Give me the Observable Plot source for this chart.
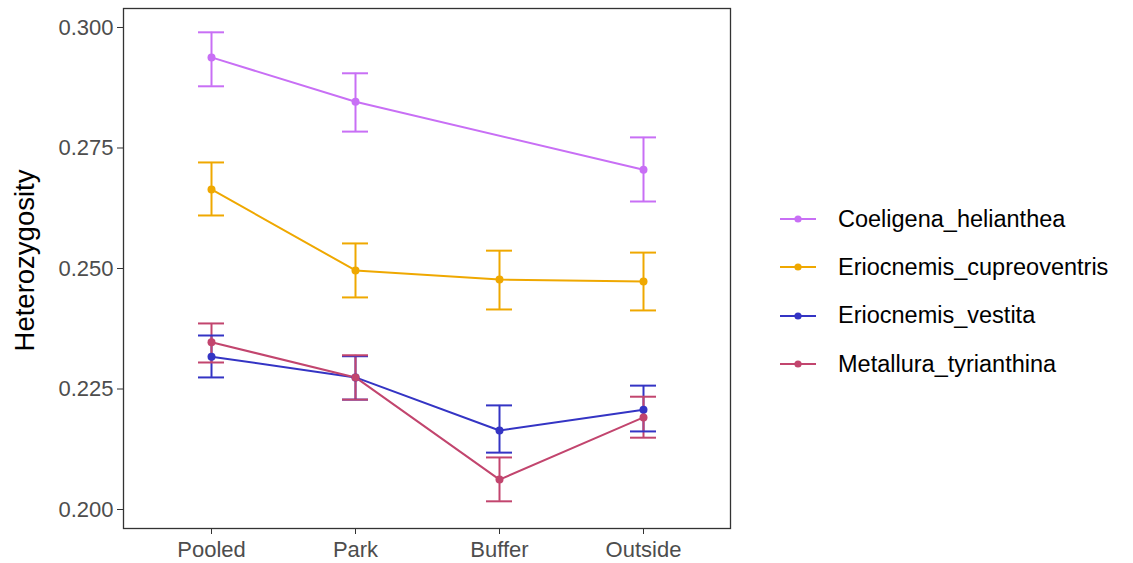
<!DOCTYPE html>
<html>
<head>
<meta charset="utf-8">
<script src="https://cdn.jsdelivr.net/npm/d3@7"></script>
<script src="https://cdn.jsdelivr.net/npm/@observablehq/plot@0.6"></script>
<style>
  html, body { margin: 0; padding: 0; background: #fff; }
  body { width: 1133px; height: 563px; overflow: hidden; font-family: "Liberation Sans", Arial, sans-serif; }
  #wrap { display: flex; flex-direction: row; align-items: flex-start; }
  #legend { margin-left: 28px; margin-top: 195px; }
  .item { display: flex; align-items: center; height: 48.3px; font-size: 23.5px; color: #000; }
  .item svg { margin-right: 20px; }
</style>
</head>
<body>
<div id="wrap">
  <div id="chart"></div>
  <div id="legend"></div>
</div>
<script>
const sites = ["Pooled", "Park", "Buffer", "Outside"];
const species = ["Coeligena_helianthea", "Eriocnemis_cupreoventris", "Eriocnemis_vestita", "Metallura_tyrianthina"];
const colors = ["#C86FF5", "#EFA800", "#3434C4", "#C2456E"];
const yTicks = [0.200, 0.225, 0.250, 0.275, 0.300];

// mean, lower, upper per site (null = not shown)
const coeligenaMean = [0.2938, 0.2846, null, 0.2705];
const coeligenaLow  = [0.2878, 0.2784, null, 0.2639];
const coeligenaHigh = [0.2990, 0.2905, null, 0.2772];

const cupreoMean = [0.2664, 0.2496, 0.2477, 0.2473];
const cupreoLow  = [0.2610, 0.2440, 0.2415, 0.2413];
const cupreoHigh = [0.2720, 0.2552, 0.2537, 0.2533];

const vestitaMean = [0.2317, 0.2274, 0.2164, 0.2207];
const vestitaLow  = [0.2274, 0.2228, 0.2118, 0.2162];
const vestitaHigh = [0.2361, 0.2318, 0.2216, 0.2257];

const metalluraMean = [0.2347, 0.2274, 0.2062, 0.2191];
const metalluraLow  = [0.2305, 0.2228, 0.2017, 0.2149];
const metalluraHigh = [0.2386, 0.2320, 0.2108, 0.2234];

const series = [
  [coeligenaMean, coeligenaLow, coeligenaHigh],
  [cupreoMean, cupreoLow, cupreoHigh],
  [vestitaMean, vestitaLow, vestitaHigh],
  [metalluraMean, metalluraLow, metalluraHigh]
];

const data = [];
series.forEach(([m, lo, hi], s) => {
  sites.forEach((site, i) => {
    if (m[i] != null) data.push({species: species[s], site, mean: m[i], lo: lo[i], hi: hi[i]});
  });
});

const chart = Plot.plot({
  width: 750,
  height: 563,
  marginLeft: 123,
  marginRight: 20,
  marginTop: 8,
  marginBottom: 35,
  style: { fontFamily: "Liberation Sans, Arial, sans-serif", background: "#fff" },
  x: { type: "band", domain: sites, paddingInner: 0.82, paddingOuter: 0.51, label: null },
  y: { domain: [0.19606, 0.30394], label: null },
  color: { domain: species, range: colors },
  marks: [
    Plot.frame({ stroke: "#333", strokeWidth: 1.3 }),
    Plot.axisY({ ticks: yTicks, tickFormat: d3.format(".3f"), tickSize: 6, tickPadding: 4, fontSize: 22, color: "#4D4D4D", stroke: "#333", label: null }),
    Plot.axisX({ tickSize: 6, tickPadding: 7, fontSize: 22, color: "#4D4D4D", stroke: "#333", label: null }),
    Plot.text(["Heterozygosity"], { frameAnchor: "left", textAnchor: "middle", dx: -98, dy: -8, rotate: -90, fontSize: 27.5, fill: "#000" }),
    Plot.ruleX(data, { x: "site", y1: "lo", y2: "hi", stroke: "species", strokeWidth: 2 }),
    Plot.tickY(data, { x: "site", y: "lo", stroke: "species", strokeWidth: 2 }),
    Plot.tickY(data, { x: "site", y: "hi", stroke: "species", strokeWidth: 2 }),
    Plot.line(data, { x: "site", y: "mean", z: "species", stroke: "species", strokeWidth: 2 }),
    Plot.dot(data, { x: "site", y: "mean", fill: "species", r: 4 })
  ]
});
document.getElementById("chart").appendChild(chart);

const legend = document.getElementById("legend");
species.forEach((s, i) => {
  const item = document.createElement("div");
  item.className = "item";
  item.innerHTML = `<svg width="40" height="14"><line x1="2" x2="38" y1="7" y2="7" stroke="${colors[i]}" stroke-width="2"/><circle cx="20" cy="7" r="3.6" fill="${colors[i]}"/></svg><span>${s}</span>`;
  legend.appendChild(item);
});
</script>
</body>
</html>
